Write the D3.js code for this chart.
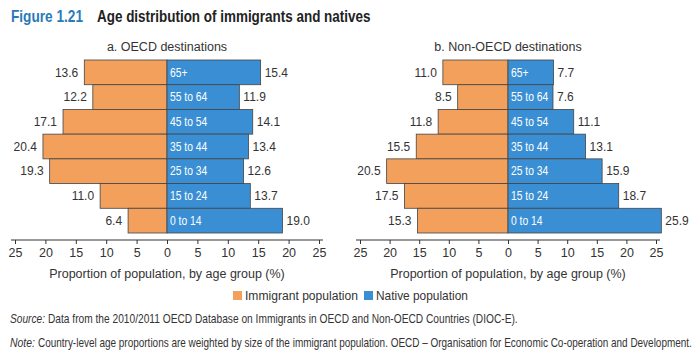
<!DOCTYPE html>
<html>
<head>
<meta charset="utf-8">
<script src="https://cdn.jsdelivr.net/npm/d3@7"></script>
<style>
body { margin: 0; background: #fff; }
text { font-family: "Liberation Sans", Arial, sans-serif; fill: #333; }
</style>
</head>
<body>
<script>
// age groups, top to bottom
var ageGroups = ["65+", "55 to 64", "45 to 54", "35 to 44", "25 to 34", "15 to 24", "0 to 14"];
// panel a: OECD destinations
var oecdImmigrant = [13.6, 12.2, 17.1, 20.4, 19.3, 11.0, 6.4];
var oecdNative = [15.4, 11.9, 14.1, 13.4, 12.6, 13.7, 19.0];
// panel b: non-OECD destinations
var nonOecdImmigrant = [11.0, 8.5, 11.8, 15.5, 20.5, 17.5, 15.3];
var nonOecdNative = [7.7, 7.6, 11.1, 13.1, 15.9, 18.7, 25.9];
var tickValues = [-25, -20, -15, -10, -5, 0, 5, 10, 15, 20, 25];

var orange = "#F2A05C", blue = "#3A8FD4";
var W = 700, H = 353;

var svg = d3.select("body").append("svg").attr("width", W).attr("height", H);

// squeeze a text horizontally (the original uses a condensed face)
// w > 1 is a target width in px, w <= 1 is a plain scale factor
function squeezed(parent, x, y, w, size, str) {
    var t = parent.append("text").style("font-size", size + "px").text(str);
    var sx = w > 1 ? w / t.node().getComputedTextLength() : w;
    t.attr("transform", "translate(" + x + "," + y + ") scale(" + sx + ",1)");
    return t;
}

// title
squeezed(svg, 11, 22, 69, 16, "Figure 1.21").style("font-weight", "bold").style("fill", "#2A7AB8");
squeezed(svg, 97, 22, 250, 16, "Age distribution of immigrants and natives").style("font-weight", "bold").style("fill", "#222");

var y = d3.scaleBand().domain(ageGroups).range([60, 233]).paddingInner(0);

function panel(name, immig, native, x0, x1) {
    var x = d3.scaleLinear().domain([-25, 25]).range([x0, x1]);
    var g = svg.append("g");
    var cx = x(0);
    g.append("text").attr("x", cx).attr("y", 51).attr("text-anchor", "middle")
        .style("font-size", "12.5px").text(name);

    // immigrant bars to the left
    g.selectAll("rect.imm").data(immig).enter().append("rect").attr("class", "imm")
        .attr("x", function (d) { return x(-d); })
        .attr("y", function (d, i) { return y(ageGroups[i]); })
        .attr("width", function (d) { return x(0) - x(-d); })
        .attr("height", y.bandwidth())
        .attr("fill", orange).attr("stroke", "#444").attr("stroke-width", 0.8);
    // native bars to the right
    g.selectAll("rect.nat").data(native).enter().append("rect").attr("class", "nat")
        .attr("x", x(0))
        .attr("y", function (d, i) { return y(ageGroups[i]); })
        .attr("width", function (d) { return x(d) - x(0); })
        .attr("height", y.bandwidth())
        .attr("fill", blue).attr("stroke", "#444").attr("stroke-width", 0.8);

    g.selectAll("text.iv").data(immig).enter().append("text").attr("class", "iv")
        .attr("x", function (d) { return x(-d) - 6; })
        .attr("y", function (d, i) { return y(ageGroups[i]) + y.bandwidth() / 2; })
        .attr("dy", "0.35em").attr("text-anchor", "end").style("font-size", "12px")
        .text(function (d) { return d.toFixed(1); });
    g.selectAll("text.nv").data(native).enter().append("text").attr("class", "nv")
        .attr("x", function (d) { return x(d) + 4; })
        .attr("y", function (d, i) { return y(ageGroups[i]) + y.bandwidth() / 2; })
        .attr("dy", "0.35em").style("font-size", "12px")
        .text(function (d) { return d.toFixed(1); });
    // age labels inside the native bars
    ageGroups.forEach(function (a) {
        squeezed(g, x(0) + 3, y(a) + y.bandwidth() / 2 + 4.2, 0.86, 12, a).style("fill", "#fff");
    });

    var axis = d3.axisBottom(x).tickValues(tickValues).tickSize(4).tickSizeOuter(0)
        .tickFormat(function (d) { return Math.abs(d); });
    var ag = g.append("g").attr("transform", "translate(0,240)").call(axis);
    ag.select(".domain").attr("d", "M" + (x0 - 4) + ",0H" + (x1 + 4)).attr("stroke", "#333");
    ag.selectAll(".tick line").attr("stroke", "#333");
    ag.selectAll(".tick text").style("font-size", "12.5px").attr("y", 8).style("fill", "#333");

    g.append("text").attr("x", cx).attr("y", 278).attr("text-anchor", "middle")
        .style("font-size", "12.5px").text("Proportion of population, by age group (%)");
}

panel("a. OECD destinations", oecdImmigrant, oecdNative, 15, 319);
panel("b. Non-OECD destinations", nonOecdImmigrant, nonOecdNative, 360, 656);

// legend
var legend = [["Immigrant population", orange, 233, 113], ["Native population", blue, 364, 92]];
legend.forEach(function (l) {
    svg.append("rect").attr("x", l[2]).attr("y", 291).attr("width", 9).attr("height", 9).attr("fill", l[1]);
    squeezed(svg, l[2] + 12, 300, l[3], 12.5, l[0]);
});

// source and note
squeezed(svg, 10, 323, 35, 12, "Source:").style("font-style", "italic");
squeezed(svg, 48, 323, 470, 12, "Data from the 2010/2011 OECD Database on Immigrants in OECD and Non-OECD Countries (DIOC-E).");
squeezed(svg, 10, 347, 25, 12, "Note:").style("font-style", "italic");
squeezed(svg, 38, 347, 655, 12, "Country-level age proportions are weighted by size of the immigrant population. OECD \u2013 Organisation for Economic Co-operation and Development.");
</script>
</body>
</html>
